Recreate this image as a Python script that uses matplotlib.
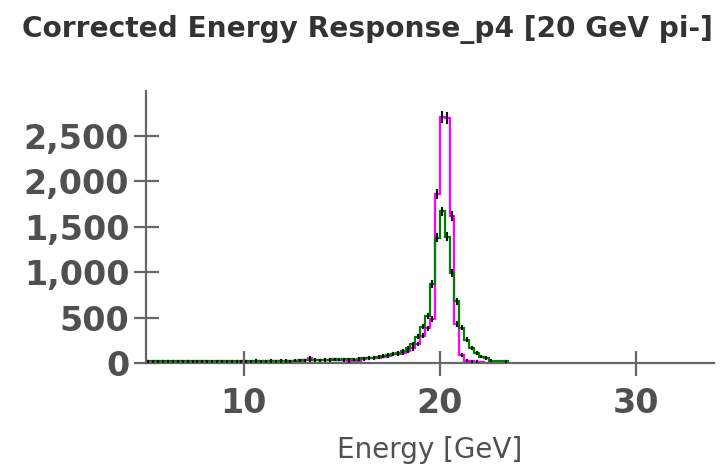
import numpy as np
import matplotlib
matplotlib.use('Agg')
import matplotlib.pyplot as plt
from matplotlib.ticker import FuncFormatter

# energy response histograms, 0.25 GeV bins starting at 5 GeV
bin_start = 5.0
bin_width = 0.25

# wide (green) response, 5.0 .. 23.5 GeV
green_counts = [
    20, 20, 18, 20, 22, 20, 18, 20,          # 5.0 - 7.0
    20, 22, 20, 18, 20, 22, 20, 20,          # 7.0 - 9.0
    22, 20, 20, 22,                          # 9.0 - 10.0
    20, 22, 24, 22, 20, 24, 22, 26, 24, 22, 26, 28,   # 10.0 - 13.0
    30, 28, 32, 30,                          # 13.0 - 14.0
    34, 36, 40, 38,                          # 14.0 - 15.0
    42, 40, 38, 44,                          # 15.0 - 16.0
    52, 56, 60, 66,                          # 16.0 - 17.0
    80, 90, 100, 115,                        # 17.0 - 18.0
    135, 160, 205, 290, 400, 520, 870, 1380,  # 18.0 - 20.0
    1670, 1390, 990, 680, 390, 255, 165, 110,  # 20.0 - 22.0
    70, 55, 25, 22, 22, 20,                  # 22.0 - 23.5
]

# narrow (magenta) response, 5.0 .. 22.25 GeV
magenta_counts = [
    15, 14, 16, 15, 14, 16, 15, 14,
    15, 16, 14, 15, 16, 14, 15, 16,
    14, 15, 16, 15,
    16, 15, 17, 16, 18, 16, 17, 18, 20, 18, 22, 24,
    30, 60, 35, 28,
    30, 32, 34, 36,
    30, 20, 10, 12,
    40, 50, 55, 60,
    70, 80, 95, 100,
    110, 130, 160, 210, 300, 380, 480, 1860,
    2710, 2700, 1620, 430, 90, 25, 20, 15,
    10,
]

x_ticks = [10, 20, 30]
y_ticks = [0, 500, 1000, 1500, 2000, 2500]

title = 'Corrected Energy Response_p4 [20 GeV pi-]'
x_label = 'Energy [GeV]'

axis_grey = '#666666'
text_grey = '#505050'


def draw_hist(ax, counts, color):
    counts = np.array(counts, dtype=float)
    edges = bin_start + bin_width*np.arange(len(counts)+1)
    centers = 0.5*(edges[:-1]+edges[1:])
    ax.stairs(counts, edges, color=color, linewidth=1.6, baseline=0)
    return centers, counts


fig = plt.figure(figsize=(7.23, 4.71), dpi=100)
ax = fig.add_axes([146/723, 108/471, 568/723, 272.4/471])

mag_x, mag_y = draw_hist(ax, magenta_counts, '#ff00ff')
grn_x, grn_y = draw_hist(ax, green_counts, '#007f00')

# statistical errors, sqrt(N)
for xs, ys in ((mag_x, mag_y), (grn_x, grn_y)) :
    eb = ax.errorbar(xs, ys, yerr=np.sqrt(ys), fmt='none', ecolor='#111111',
                     elinewidth=1.5, capsize=0, zorder=5)
    for lc in eb[2] :
        lc.set_capstyle('projecting')

ax.set_xlim(5, 34)
ax.set_ylim(0, 3000)
ax.set_xticks(x_ticks)
ax.set_yticks(y_ticks)
ax.yaxis.set_major_formatter(FuncFormatter(lambda v, p: '{:,.0f}'.format(v)))

for side in ['top', 'right'] :
    ax.spines[side].set_visible(False)
for side in ['left', 'bottom'] :
    ax.spines[side].set_color(axis_grey)
    ax.spines[side].set_linewidth(1.6)

ax.tick_params(direction='inout', length=18, width=1.6, color=axis_grey,
               labelcolor=text_grey, labelsize=24)
ax.tick_params(axis='y', pad=3)
ax.tick_params(axis='x', pad=8)
for lab in ax.get_xticklabels() + ax.get_yticklabels() :
    lab.set_fontweight('bold')

ax.set_xlabel(x_label, fontsize=20, color=text_grey, labelpad=12)

fig.text(22/723, 1 - 30/471, title, fontsize=20.2, fontweight='bold',
         color='#333333', ha='left', va='center')

fig.savefig('out.png', dpi=100)
